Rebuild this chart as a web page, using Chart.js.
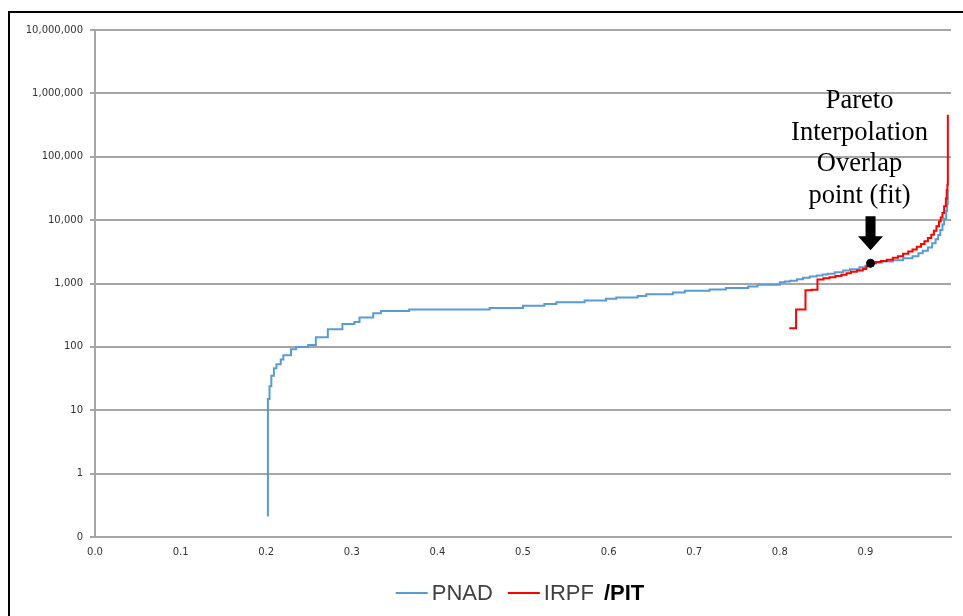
<!DOCTYPE html>
<html>
<head>
<meta charset="utf-8">
<script src="https://cdn.jsdelivr.net/npm/chart.js@4.4.1/dist/chart.umd.min.js"></script>
<style>
  html, body { margin: 0; padding: 0; background: #fff; overflow: hidden; }
  #frame { position: absolute; left: 8px; top: 11px; width: 2000px; height: 2000px;
           border-left: 2px solid #000; border-top: 2px solid #000; }
  #chart { position: absolute; left: 0; top: 0; }
</style>
</head>
<body>
<div id="frame"></div>
<canvas id="chart" width="963" height="616"></canvas>
<script>
// PNAD survey: cumulative population share vs income (steps)
const pnadShare = [0.202, 0.202, 0.2039, 0.206, 0.209, 0.212, 0.217, 0.220, 0.229, 0.235,
  0.249, 0.258, 0.272, 0.289, 0.303, 0.309, 0.325, 0.334, 0.367, 0.461,
  0.500, 0.525, 0.539, 0.572, 0.597, 0.609, 0.634, 0.644, 0.675, 0.689,
  0.718, 0.737, 0.763, 0.774, 0.800, 0.806, 0.812, 0.820, 0.827, 0.835,
  0.843, 0.850, 0.856, 0.864, 0.874, 0.882, 0.893, 0.900, 0.906, 0.912,
  0.920, 0.932, 0.944, 0.955, 0.962, 0.967, 0.973, 0.978, 0.982, 0.985,
  0.9875, 0.990, 0.992, 0.9944, 0.9955, 0.9963];
const pnadIncome = [0.21, 15, 24, 35, 46, 53, 63, 74, 92, 100,
  107, 142, 190, 229, 247, 292, 338, 367, 390, 412,
  445, 473, 508, 540, 573, 603, 633, 674, 720, 768,
  804, 850, 897, 955, 1050, 1080, 1110, 1170, 1230, 1290,
  1340, 1390, 1430, 1500, 1600, 1680, 1800, 1900, 2090, 2150,
  2230, 2330, 2500, 2700, 3000, 3300, 3700, 4300, 5000, 5800,
  7000, 8500, 10500, 14000, 18000, 30000];

// IRPF / PIT tax records: upper tail
const irpfShare = [0.811, 0.819, 0.830, 0.837, 0.844, 0.851, 0.858, 0.865, 0.872, 0.878,
  0.883, 0.890, 0.897, 0.901, 0.906, 0.912, 0.918, 0.925, 0.932, 0.938,
  0.944, 0.950, 0.955, 0.960, 0.965, 0.969, 0.973, 0.977, 0.980, 0.983,
  0.986, 0.988, 0.990, 0.992, 0.994, 0.995, 0.9958, 0.9963];
const irpfIncome = [196, 390, 785, 800, 1160, 1210, 1260, 1310, 1370, 1450,
  1530, 1610, 1700, 1850, 2090, 2180, 2260, 2380, 2540, 2700,
  2950, 3200, 3450, 3800, 4200, 4650, 5200, 5900, 6800, 8000,
  9500, 11000, 13000, 16500, 22000, 30000, 36000, 460000];

// overlap point where the Pareto fit joins
const overlapShare = [0.906];
const overlapIncome = [2090];

const xTickValues = [0, 0.1, 0.2, 0.3, 0.4, 0.5, 0.6, 0.7, 0.8, 0.9];
const xTickLabels = ['0.0', '0.1', '0.2', '0.3', '0.4', '0.5', '0.6', '0.7', '0.8', '0.9'];
const yTickValues = [0.1, 1, 10, 100, 1000, 10000, 100000, 1000000, 10000000];
const yTickLabels = ['0', '1', '10', '100', '1,000', '10,000', '100,000', '1,000,000', '10,000,000'];

const noteLines = ['Pareto', 'Interpolation', 'Overlap', 'point (fit)'];
const legendLabels = ['PNAD', 'IRPF'];
const legendSuffix = '/PIT';
const seriesColors = ['#5b9bd5', '#ff0000'];

function toPoints(xs, ys) {
  return xs.map((x, i) => ({ x: x, y: ys[i] }));
}

// arrow + text above the overlap point
const notePlugin = {
  id: 'note',
  afterDatasetsDraw(chart) {
    const ctx = chart.ctx;
    const px = chart.scales.x.getPixelForValue(overlapShare[0]);
    const py = chart.scales.y.getPixelForValue(overlapIncome[0]);
    ctx.save();
    ctx.fillStyle = '#000';
    ctx.beginPath();
    ctx.moveTo(px - 5, py - 47);
    ctx.lineTo(px + 5, py - 47);
    ctx.lineTo(px + 5, py - 27);
    ctx.lineTo(px + 12.5, py - 27);
    ctx.lineTo(px, py - 13);
    ctx.lineTo(px - 12.5, py - 27);
    ctx.lineTo(px - 5, py - 27);
    ctx.closePath();
    ctx.fill();

    ctx.font = '26.5px "Liberation Serif", "Times New Roman", serif';
    ctx.textAlign = 'center';
    ctx.textBaseline = 'alphabetic';
    noteLines.forEach((line, i) => {
      ctx.fillText(line, px - 11, py - 155 + i * 31.5);
    });
    ctx.restore();
  }
};

// legend drawn by hand so the spacing matches
const legendPlugin = {
  id: 'customLegend',
  afterDraw(chart) {
    const ctx = chart.ctx;
    const area = chart.chartArea;
    const y = 593;
    const lineLen = 32, gap = 4, itemGap = 15, suffixGap = 10;
    ctx.save();
    ctx.font = '22px "Liberation Sans", Arial, sans-serif';
    const widths = legendLabels.map(t => ctx.measureText(t).width);
    ctx.font = 'bold 22px "Liberation Sans", Arial, sans-serif';
    const suffixW = ctx.measureText(legendSuffix).width;
    let total = 0;
    widths.forEach(w => { total += lineLen + gap + w; });
    total += itemGap * (legendLabels.length - 1) + suffixGap + suffixW;
    let x = (area.left + area.right) / 2 - 3 - total / 2;

    ctx.textBaseline = 'middle';
    ctx.textAlign = 'left';
    legendLabels.forEach((label, i) => {
      ctx.strokeStyle = seriesColors[i];
      ctx.lineWidth = 2;
      ctx.beginPath();
      ctx.moveTo(x, y);
      ctx.lineTo(x + lineLen, y);
      ctx.stroke();
      x += lineLen + gap;
      ctx.font = '22px "Liberation Sans", Arial, sans-serif';
      ctx.fillStyle = '#404040';
      ctx.fillText(label, x, y + 1);
      x += widths[i] + (i < legendLabels.length - 1 ? itemGap : suffixGap);
    });
    ctx.font = 'bold 22px "Liberation Sans", Arial, sans-serif';
    ctx.fillStyle = '#000';
    ctx.fillText(legendSuffix, x, y + 1);
    ctx.restore();
  }
};

const chart = new Chart(document.getElementById('chart'), {
  type: 'line',
  data: {
    datasets: [
      {
        label: legendLabels[0],
        data: toPoints(pnadShare, pnadIncome),
        borderColor: seriesColors[0],
        borderWidth: 2,
        stepped: 'before',
        pointRadius: 0,
        fill: false,
        order: 2
      },
      {
        label: legendLabels[1],
        data: toPoints(irpfShare, irpfIncome),
        borderColor: seriesColors[1],
        borderWidth: 2,
        stepped: 'before',
        pointRadius: 0,
        fill: false,
        order: 1
      },
      {
        label: 'overlap',
        data: toPoints(overlapShare, overlapIncome),
        showLine: false,
        pointRadius: 4,
        pointBackgroundColor: '#000',
        pointBorderColor: '#000',
        order: 0
      }
    ]
  },
  options: {
    responsive: false,
    animation: false,
    devicePixelRatio: 1,
    layout: { padding: { top: 30, right: 12, left: 0, bottom: 0 } },
    plugins: {
      legend: { display: false },
      tooltip: { enabled: false }
    },
    scales: {
      x: {
        type: 'linear',
        min: 0,
        max: 1,
        afterBuildTicks: (scale) => { scale.ticks = xTickValues.map(v => ({ value: v })); },
        afterFit: (scale) => { scale.height = 79; },
        grid: { display: true, drawOnChartArea: false, drawTicks: false },
        border: { color: '#a6a6a6', width: 2 },
        ticks: {
          padding: 9,
          maxRotation: 0,
          color: '#333333',
          font: { family: '"DejaVu Sans", Verdana, sans-serif', size: 10 },
          callback: (v) => {
            const i = xTickValues.findIndex(t => Math.abs(t - v) < 1e-9);
            return i >= 0 ? xTickLabels[i] : null;
          }
        }
      },
      y: {
        type: 'logarithmic',
        min: 0.1,
        max: 10000000,
        afterBuildTicks: (scale) => { scale.ticks = yTickValues.map(v => ({ value: v })); },
        afterFit: (scale) => { scale.width = 95; },
        grid: { color: '#a6a6a6', lineWidth: 2, tickLength: 5, drawTicks: true },
        border: { color: '#a6a6a6', width: 2 },
        ticks: {
          padding: 7,
          color: '#333333',
          font: { family: '"DejaVu Sans", Verdana, sans-serif', size: 10 },
          callback: (v) => {
            const i = yTickValues.findIndex(t => Math.abs(t - v) / t < 1e-6);
            return i >= 0 ? yTickLabels[i] : null;
          }
        }
      }
    }
  },
  plugins: [notePlugin, legendPlugin]
});
</script>
</body>
</html>
